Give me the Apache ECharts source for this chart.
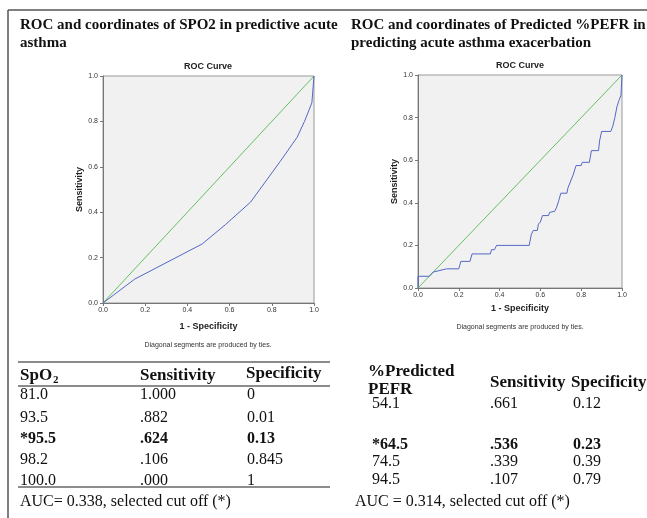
<!DOCTYPE html>
<html>
<head>
<meta charset="utf-8">
<script src="https://cdn.jsdelivr.net/npm/echarts@6/dist/echarts.min.js"></script>
<style>
html,body{margin:0;padding:0;background:#fff;}
#c{width:647px;height:518px;}
</style>
</head>
<body>
<div id="c"></div>
<script>
// ---- Data ----
const leftTitle = ['ROC and coordinates of SPO2 in predictive acute', 'asthma'];
const rightTitle = ['ROC and coordinates of Predicted %PEFR in', 'predicting acute asthma exacerbation'];
const chartTitle = 'ROC Curve';
const xName = '1 - Specificity';
const yName = 'Sensitivity';
const footNote = 'Diagonal segments are produced by ties.';

// ROC curve of SpO2: [1 - specificity, sensitivity]
const spo2Curve = [[0,0],[0.15,0.105],[0.47,0.26],[0.58,0.345],[0.70,0.445],[0.84,0.624],[0.92,0.73],[0.955,0.80],[0.99,0.882],[1,1]];
// ROC curve of %Predicted PEFR
const pefrCurve = [[0,0],[0,0.055],[0.055,0.055],[0.075,0.075],[0.14,0.09],[0.2,0.09],[0.21,0.125],[0.255,0.125],[0.265,0.16],[0.355,0.16],[0.36,0.18],[0.375,0.18],[0.385,0.2],[0.545,0.2],[0.555,0.25],[0.565,0.27],[0.585,0.27],[0.59,0.3],[0.6,0.31],[0.61,0.34],[0.64,0.34],[0.645,0.355],[0.67,0.36],[0.68,0.38],[0.69,0.41],[0.7,0.445],[0.73,0.445],[0.735,0.47],[0.76,0.53],[0.775,0.575],[0.8,0.575],[0.805,0.59],[0.84,0.59],[0.85,0.645],[0.885,0.645],[0.89,0.69],[0.9,0.735],[0.945,0.735],[0.955,0.76],[0.965,0.8],[0.975,0.85],[0.985,0.88],[0.995,0.905],[1,1]];
const diagonal = [[0,0],[1,1]];

// Tables
const spo2Header = ['SpO', 'Sensitivity', 'Specificity'];
const spo2Cut = ['81.0','93.5','*95.5','98.2','100.0'];
const spo2Sens = ['1.000','.882','.624','.106','.000'];
const spo2Spec = ['0','0.01','0.13','0.845','1'];
const spo2Bold = [false,false,true,false,false];
const spo2Auc = 'AUC= 0.338, selected cut off (*)';

const pefrHeader = ['%Predicted', 'PEFR', 'Sensitivity', 'Specificity'];
const pefrCut = ['54.1','*64.5','74.5','94.5'];
const pefrSens = ['.661','.536','.339','.107'];
const pefrSpec = ['0.12','0.23','0.39','0.79'];
const pefrBold = [false,true,false,false];
const pefrAuc = 'AUC = 0.314, selected cut off (*)';

// ---- Layout ----
const serif = '"Liberation Serif", "Times New Roman", serif';
const sans = '"Liberation Sans", Arial, sans-serif';
const blue = '#5468c4';
const green = '#62c062';

const grids = [
  {left:103, top:76, width:211, height:227},
  {left:418, top:75, width:204, height:213}
];

function axisPair(i, xGap, yGap){
  const common = {
    type:'value', min:0, max:1, interval:0.2, gridIndex:i,
    axisLine:{show:true, lineStyle:{color:'#777', width:1}},
    axisTick:{show:true, length:3, lineStyle:{color:'#777'}},
    splitLine:{show:false},
    axisLabel:{fontSize:7, fontFamily:sans, color:'#333', formatter:v=>v.toFixed(1)},
    nameLocation:'middle',
    nameTextStyle:{fontSize:9, fontWeight:'bold', fontFamily:sans, color:'#222'}
  };
  const x = Object.assign({}, common, {name:xName, nameGap:xGap, axisLabel:Object.assign({}, common.axisLabel, {margin:4})});
  const y = Object.assign({}, common, {name:yName, nameGap:yGap, nameRotate:90, axisLabel:Object.assign({}, common.axisLabel, {margin:5})});
  return [x,y];
}
const [x0,y0] = axisPair(0, 19, 18);
const [x1,y1] = axisPair(1, 16, 18);

const g = [];
function txt(x,y,text,opt){
  g.push({type:'text', x:x, y:y, style:Object.assign({text:text, fill:'#111', font:'15px '+serif, textVerticalAlign:'middle'}, opt||{})});
}
function hline(x1,x2,y,w,c){
  g.push({type:'line', shape:{x1:x1,y1:y,x2:x2,y2:y}, style:{stroke:c||'#666', lineWidth:w||1.5}});
}
// frame
hline(8,647,10,1.5,'#555');
g.push({type:'line', shape:{x1:8,y1:10,x2:8,y2:518}, style:{stroke:'#555', lineWidth:1.5}});

// headings
txt(20,25,leftTitle[0],{font:'bold 15px '+serif});
txt(20,43,leftTitle[1],{font:'bold 15px '+serif});
txt(351,25,rightTitle[0],{font:'bold 15px '+serif});
txt(351,43,rightTitle[1],{font:'bold 15px '+serif});

// chart titles & footnotes
txt(208,67,chartTitle,{font:'bold 9px '+sans, textAlign:'center', fill:'#222'});
txt(520,66,chartTitle,{font:'bold 9px '+sans, textAlign:'center', fill:'#222'});
txt(208,345,footNote,{font:'7px '+sans, textAlign:'center', fill:'#333'});
txt(520,327,footNote,{font:'7px '+sans, textAlign:'center', fill:'#333'});

// left table
hline(18,330,362,1.5,'#666');
hline(18,330,386,1.5,'#666');
hline(18,330,487,1.5,'#666');
txt(20,376,spo2Header[0],{font:'bold 17px '+serif});
txt(53,380,'2',{font:'bold 11px '+serif});
txt(140,376,spo2Header[1],{font:'bold 17px '+serif});
txt(246,374,spo2Header[2],{font:'bold 17px '+serif});
const spo2Y = [395,418,439,460,481];
spo2Cut.forEach((v,i)=>{
  const f = (spo2Bold[i]?'bold ':'')+'16px '+serif;
  txt(20,spo2Y[i],v,{font:f});
  txt(140,spo2Y[i],spo2Sens[i],{font:f});
  txt(247,spo2Y[i],spo2Spec[i],{font:f});
});
txt(20,502,spo2Auc,{font:'16px '+serif});

// right table
txt(368,372,pefrHeader[0],{font:'bold 17px '+serif});
txt(368,390,pefrHeader[1],{font:'bold 17px '+serif});
txt(490,383,pefrHeader[2],{font:'bold 17px '+serif});
txt(571,383,pefrHeader[3],{font:'bold 17px '+serif});
const pefrY = [404,445,462,480];
pefrCut.forEach((v,i)=>{
  const f = (pefrBold[i]?'bold ':'')+'16px '+serif;
  txt(372,pefrY[i],v,{font:f});
  txt(490,pefrY[i],pefrSens[i],{font:f});
  txt(573,pefrY[i],pefrSpec[i],{font:f});
});
txt(355,502,pefrAuc,{font:'16px '+serif});

function lineSeries(data, xi, color){
  return {type:'line', data:data, xAxisIndex:xi, yAxisIndex:xi, showSymbol:false, symbol:'none',
    lineStyle:{color:color, width:1}, animation:false, silent:true, z:3};
}

const chart = echarts.init(document.getElementById('c'), null, {renderer:'canvas'});
chart.setOption({
  animation:false,
  backgroundColor:'#fff',
  grid: grids.map(gr=>Object.assign({show:true, backgroundColor:'#f1f1f1', borderColor:'#999', borderWidth:1, containLabel:false}, gr)),
  xAxis:[x0,x1],
  yAxis:[y0,y1],
  series:[
    lineSeries(diagonal,0,green),
    lineSeries(spo2Curve,0,blue),
    lineSeries(diagonal,1,green),
    lineSeries(pefrCurve,1,blue)
  ],
  graphic:g
});
</script>
</body>
</html>
